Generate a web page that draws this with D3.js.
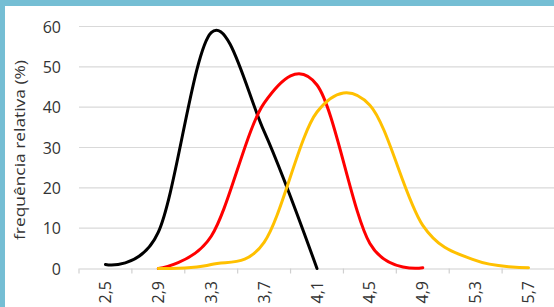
<!DOCTYPE html>
<html>
<head>
<meta charset="utf-8">
<script src="https://cdn.jsdelivr.net/npm/d3@7"></script>
<style>
  body { margin: 0; background: #fff; }
  svg { display: block; font-family: "Open Sans", sans-serif; }
</style>
</head>
<body>
<svg id="chart"></svg>
<script>
// categorias do eixo x (passo 0,4)
const categories = ["2,5", "2,9", "3,3", "3,7", "4,1", "4,5", "4,9", "5,3", "5,7"];
// frequência relativa (%) de cada série
const serieBlack = [1, 9, 58.5, 34, 0, null, null, null, null];
const serieRed = [null, 0, 8, 41, 45.5, 6.2, 0.2, null, null];
const serieYellow = [null, 0, 1, 6.5, 38.8, 40.5, 10.7, 2, 0.2];
const yTicks = [0, 10, 20, 30, 40, 50, 60];

const width = 554;
const height = 307;

const svg = d3.select("#chart")
    .attr("width", width)
    .attr("height", height);

// moldura azul
svg.append("rect").attr("width", width).attr("height", height).attr("fill", "#75bed4");
svg.append("rect").attr("x", 5).attr("y", 6).attr("width", width).attr("height", height).attr("fill", "#fff");

const x = d3.scaleBand().domain(categories).range([79, 555]);
const y = d3.scaleLinear().domain([0, 60]).range([268.5, 26.5]);

// grelha horizontal
svg.append("g")
    .selectAll("line")
    .data(yTicks.filter(d => d > 0))
    .join("line")
    .attr("x1", 79).attr("x2", width)
    .attr("y1", d => y(d)).attr("y2", d => y(d))
    .attr("stroke", "#d9d9d9")
    .attr("stroke-width", 1.2);

// eixo x
const xAxis = svg.append("g")
    .attr("transform", `translate(0,${y(0)})`)
    .call(d3.axisBottom(x).tickSize(0).tickPadding(0));
xAxis.select(".domain").attr("stroke", "#d0d0d0").attr("stroke-width", 1.2);
xAxis.selectAll(".tick text")
    .attr("transform", "rotate(-90)")
    .attr("text-anchor", "end")
    .attr("x", -12.5)
    .attr("y", 0)
    .attr("dy", "0.35em")
    .attr("font-size", 16)
    .attr("font-family", "Open Sans")
    .attr("fill", "#333");

// marcas entre categorias
svg.append("g")
    .selectAll("line")
    .data(categories)
    .join("line")
    .attr("x1", d => x(d)).attr("x2", d => x(d))
    .attr("y1", y(0)).attr("y2", y(0) + 5)
    .attr("stroke", "#d0d0d0")
    .attr("stroke-width", 1.2);

// eixo y (apenas rótulos)
const yAxis = svg.append("g")
    .attr("transform", "translate(61,0)")
    .call(d3.axisLeft(y).tickValues(yTicks).tickSize(0).tickPadding(0));
yAxis.select(".domain").remove();
yAxis.selectAll(".tick text")
    .attr("font-size", 16)
    .attr("font-family", "Open Sans")
    .attr("dy", "0.36em")
    .attr("fill", "#333");

svg.append("text")
    .attr("transform", "translate(25,150) rotate(-90)")
    .attr("text-anchor", "middle")
    .attr("font-size", 15)
    .attr("textLength", 180)
    .attr("lengthAdjust", "spacingAndGlyphs")
    .attr("fill", "#333")
    .text("frequência relativa (%)");

// séries (linhas suavizadas)
const line = d3.line()
    .defined(d => d.v != null)
    .x(d => x(d.c) + x.bandwidth() / 2)
    .y(d => y(d.v))
    .curve(d3.curveCardinal.tension(0));

const series = [
    { values: serieBlack, color: "#000000" },
    { values: serieRed, color: "#ff0000" },
    { values: serieYellow, color: "#ffc000" }
];

svg.append("g")
    .selectAll("path")
    .data(series)
    .join("path")
    .attr("fill", "none")
    .attr("stroke", d => d.color)
    .attr("stroke-width", 3)
    .attr("stroke-linecap", "round")
    .attr("d", d => line(d.values.map((v, i) => ({ c: categories[i], v }))));
</script>
</body>
</html>
